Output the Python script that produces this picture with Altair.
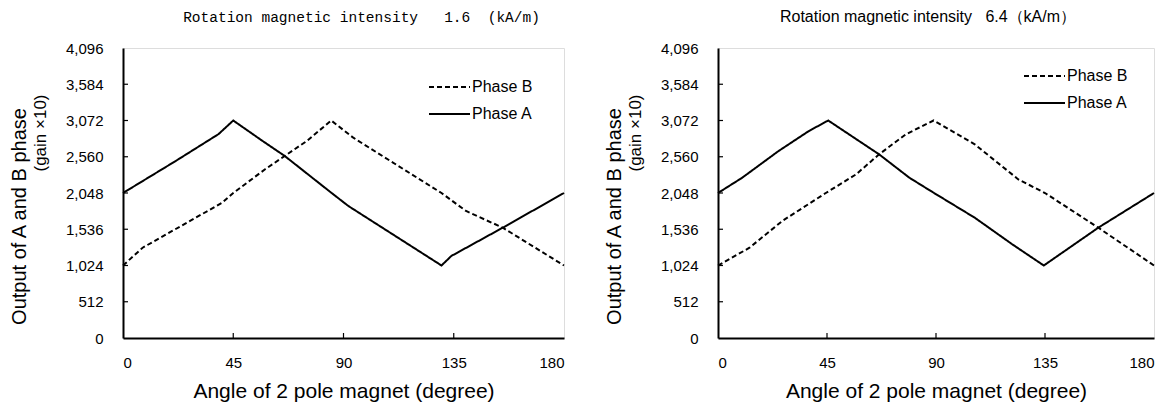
import altair as alt
import pandas as pd

# ---- data ----
x_ticks = [0, 45, 90, 135, 180]
y_ticks = [0, 512, 1024, 1536, 2048, 2560, 3072, 3584, 4096]

# Panel 1: rotation magnetic intensity 1.6 kA/m
angle_a1 = [0, 21.5, 39, 45, 57, 66, 85, 92, 130, 134, 155, 180]
phase_a1 = [2048, 2500, 2880, 3072, 2782, 2571, 2052, 1864, 1024, 1158, 1558, 2048]
angle_b1 = [0, 8, 40.5, 45, 58, 75, 85, 94, 130, 140, 155, 180]
phase_b1 = [1024, 1275, 1911, 2048, 2383, 2782, 3072, 2829, 2048, 1794, 1558, 1024]

# Panel 2: rotation magnetic intensity 6.4 kA/m
angle_a2 = [0, 10, 25, 37.5, 45.5, 66.5, 79, 89, 106, 121.5, 134.5, 157, 180]
phase_a2 = [2048, 2264, 2641, 2923, 3072, 2594, 2264, 2052, 1699, 1323, 1024, 1558, 2048]
angle_b2 = [0, 13, 26.5, 44.5, 57, 66.5, 77.5, 89, 106, 124, 135, 157, 180]
phase_b2 = [1024, 1275, 1652, 2048, 2311, 2594, 2876, 3072, 2735, 2240, 2048, 1558, 1024]

series_names = ["Phase B", "Phase A"]
NB = "\u00a0"
title1 = f"Rotation magnetic intensity{NB*3}1.6{NB*2}(kA/m)"
title2 = f"Rotation magnetic intensity{NB*3}6.4（kA/m）"
x_title = "Angle of 2 pole magnet (degree)"
y_title = "Output of A and B phase"
y_sub = "(gain ×10)"

FONT = "Liberation Sans"
H = 290


def make_df(aa, pa, ab, pb):
    return pd.concat([
        pd.DataFrame({"angle": aa, "value": pa, "phase": "Phase A"}),
        pd.DataFrame({"angle": ab, "value": pb, "phase": "Phase B"}),
    ])


def panel(df, title_text, title_font, title_size, title_dx, W, lx, ly):
    xs = alt.Scale(domain=[0, 180], nice=False)
    ys = alt.Scale(domain=[0, 4096], nice=False)
    x_axis = alt.Axis(
        values=x_ticks, title=x_title, titleFontSize=21, titleFont=FONT,
        titleFontWeight="normal", titlePadding=10, labelPadding=17,
        labelFontSize=15, labelFont=FONT, ticks=False, grid=False, labelOverlap=False,
        domainColor="black", domainWidth=2, labelColor="black", titleColor="black")
    y_axis = alt.Axis(
        values=y_ticks, format=",.0f", title=y_title, titleFontSize=20, titleFont=FONT,
        titleFontWeight="normal", titleX=-104, titleY=168, titleBaseline="middle",
        titleAlign="center", labelPadding=20, labelOverlap=False,
        labelFontSize=15, labelFont=FONT, ticks=False, grid=False,
        domainColor="black", domainWidth=2, labelColor="black", titleColor="black")
    dash = alt.Scale(domain=series_names, range=[[5, 3], [1, 0]])
    lines = alt.Chart(df).mark_line(color="black", strokeWidth=2).encode(
        x=alt.X("angle:Q", scale=xs, axis=x_axis),
        y=alt.Y("value:Q", scale=ys, axis=y_axis),
        strokeDash=alt.StrokeDash("phase:N", scale=dash, legend=None),
        detail="phase:N",
    )
    xt = alt.Chart(pd.DataFrame({"t": x_ticks[1:-1]})).mark_rule(color="black", strokeWidth=1.2).encode(
        x=alt.X("t:Q", scale=xs, axis=x_axis), y=alt.value(H), y2=alt.value(H - 5))
    yt = alt.Chart(pd.DataFrame({"t": y_ticks[1:-1]})).mark_rule(color="black", strokeWidth=1.2).encode(
        y=alt.Y("t:Q", scale=ys, axis=y_axis), x=alt.value(0), x2=alt.value(5))
    sub = alt.Chart(pd.DataFrame({"s": [y_sub]})).mark_text(
        angle=270, fontSize=17, font=FONT, color="black", baseline="middle").encode(
        text="s:N", x=alt.value(-82), y=alt.value(85))
    leg = []
    for i, name in enumerate(series_names):
        d = pd.DataFrame({"phase": [name]})
        leg.append(alt.Chart(d).mark_rule(color="black", strokeWidth=2).encode(
            x=alt.value(lx), x2=alt.value(lx + 41), y=alt.value(ly + 27 * i),
            strokeDash=alt.StrokeDash("phase:N", scale=dash, legend=None)))
        leg.append(alt.Chart(d).mark_text(align="left", baseline="middle", fontSize=16,
                                          font=FONT, color="black").encode(
            text="phase:N", x=alt.value(lx + 43), y=alt.value(ly + 27 * i)))
    return alt.layer(lines, xt, yt, sub, *leg).properties(
        width=W, height=H,
        title=alt.TitleParams(title_text, font=title_font, fontSize=title_size, dx=title_dx,
                              fontWeight="normal", color="black", offset=16, anchor="middle"))


p1 = panel(make_df(angle_a1, phase_a1, angle_b1, phase_b1), title1, "Liberation Mono", 14.5, 18, 441, 306, 39)
p2 = panel(make_df(angle_a2, phase_a2, angle_b2, phase_b2), title2, FONT, 16, -8, 436, 306, 28)

chart = alt.hconcat(p1, p2, spacing=34).properties(
    padding={"left": 8, "top": 8, "right": 5, "bottom": 5}
).configure_view(stroke="black", strokeWidth=2).configure(background="white")

chart.save("out.html", embed_options={"renderer": "svg", "actions": False})
